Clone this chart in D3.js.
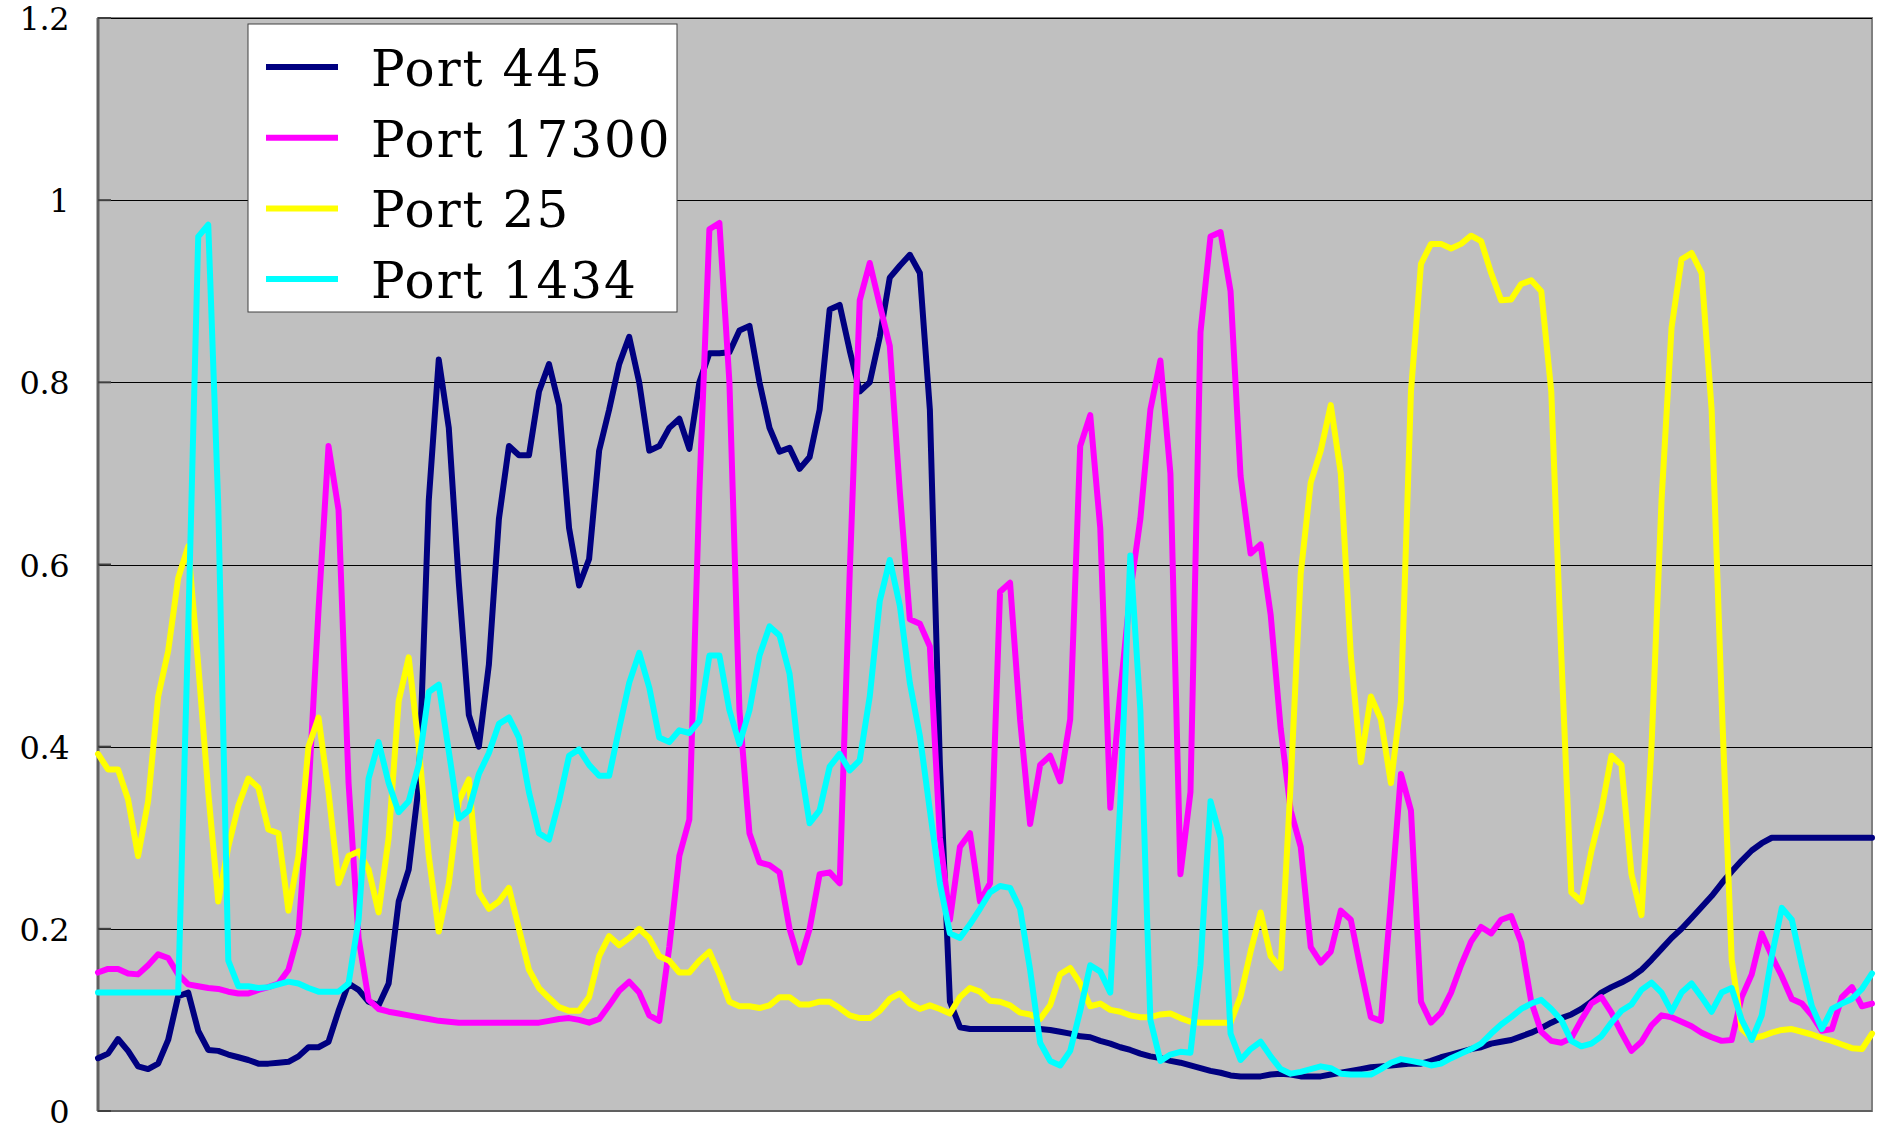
<!DOCTYPE html>
<html>
<head>
<meta charset="utf-8">
<script src="https://cdn.jsdelivr.net/npm/d3@7"></script>
<style>
  body { margin: 0; background: #fff; }
  svg { display: block; }
</style>
</head>
<body>
<svg width="1879" height="1131"></svg>
<script>
// one reading every ~10px along the time axis
const port445 = [
    0.058, 0.063, 0.079, 0.066, 0.049, 0.046, 0.052, 0.078, 0.126, 0.13,
    0.088, 0.067, 0.066, 0.062, 0.059, 0.056, 0.052, 0.052, 0.053, 0.054,
    0.06, 0.07, 0.07, 0.076, 0.11, 0.14, 0.133, 0.12, 0.116, 0.14,
    0.23, 0.265, 0.357, 0.67, 0.825, 0.75, 0.58, 0.435, 0.4, 0.49,
    0.65, 0.73, 0.72, 0.72, 0.79, 0.82, 0.775, 0.64, 0.577, 0.606,
    0.725, 0.77, 0.82, 0.85, 0.8, 0.725, 0.73, 0.75, 0.76, 0.727,
    0.8, 0.832, 0.832, 0.833, 0.857, 0.862, 0.8, 0.75, 0.724, 0.728,
    0.705, 0.718, 0.77, 0.88, 0.885, 0.835, 0.79, 0.8, 0.85, 0.915,
    0.928, 0.94, 0.92, 0.77, 0.38, 0.12, 0.092, 0.09, 0.09, 0.09,
    0.09, 0.09, 0.09, 0.09, 0.09, 0.089, 0.087, 0.085, 0.082, 0.081,
    0.077, 0.074, 0.07, 0.067, 0.063, 0.06, 0.058, 0.055, 0.053, 0.05,
    0.047, 0.044, 0.042, 0.039, 0.038, 0.038, 0.038, 0.04, 0.041, 0.04,
    0.038, 0.038, 0.038, 0.04, 0.042, 0.044, 0.046, 0.048, 0.049, 0.05,
    0.051, 0.052, 0.052, 0.055, 0.059, 0.062, 0.065, 0.068, 0.07, 0.074,
    0.076, 0.078, 0.082, 0.086, 0.091, 0.097, 0.102, 0.106, 0.112, 0.12,
    0.13, 0.136, 0.141, 0.147, 0.155, 0.166, 0.178, 0.19, 0.2, 0.212,
    0.224, 0.236, 0.25, 0.263, 0.275, 0.286, 0.294, 0.3, 0.3, 0.3,
    0.3, 0.3, 0.3, 0.3, 0.3, 0.3, 0.3, 0.3
];
const port17300 = [
    0.152, 0.156, 0.156, 0.151, 0.15, 0.16, 0.172, 0.168, 0.15, 0.139,
    0.137, 0.135, 0.134, 0.131, 0.129, 0.129, 0.133, 0.136, 0.14, 0.155,
    0.195, 0.35, 0.55, 0.73, 0.66, 0.36, 0.19, 0.122, 0.112, 0.109,
    0.107, 0.105, 0.103, 0.101, 0.099, 0.098, 0.097, 0.097, 0.097, 0.097,
    0.097, 0.097, 0.097, 0.097, 0.097, 0.099, 0.101, 0.102, 0.1, 0.097,
    0.101, 0.116, 0.132, 0.142, 0.13, 0.105, 0.099, 0.18, 0.28, 0.32,
    0.68, 0.968, 0.975, 0.8, 0.44, 0.305, 0.273, 0.27, 0.262, 0.2,
    0.163, 0.2, 0.26, 0.262, 0.25, 0.59, 0.89, 0.931, 0.885, 0.84,
    0.68, 0.54, 0.535, 0.51, 0.3, 0.21, 0.29, 0.305, 0.23, 0.25,
    0.57, 0.58, 0.43, 0.315, 0.38, 0.39, 0.362, 0.43, 0.73, 0.764,
    0.64, 0.333, 0.46, 0.57, 0.65, 0.77, 0.824, 0.7, 0.26, 0.35,
    0.855, 0.96, 0.965, 0.9, 0.697, 0.612, 0.622, 0.545, 0.42, 0.33,
    0.29, 0.18, 0.163, 0.175, 0.22, 0.21, 0.155, 0.103, 0.099, 0.23,
    0.37, 0.33, 0.12, 0.097, 0.108, 0.13, 0.16, 0.186, 0.202, 0.195,
    0.21, 0.214, 0.185, 0.12, 0.087, 0.077, 0.075, 0.08, 0.1, 0.118,
    0.125, 0.108, 0.086, 0.066, 0.076, 0.094, 0.105, 0.103, 0.098, 0.093,
    0.086, 0.081, 0.077, 0.078, 0.125, 0.15, 0.195, 0.17, 0.148, 0.123,
    0.118, 0.105, 0.088, 0.09, 0.125, 0.136, 0.115, 0.118
];
const port25 = [
    0.392, 0.375, 0.375, 0.342, 0.28, 0.34, 0.455, 0.505, 0.585, 0.62,
    0.49, 0.35, 0.23, 0.29, 0.335, 0.365, 0.355, 0.309, 0.305, 0.22,
    0.28, 0.4, 0.432, 0.35, 0.25, 0.28, 0.285, 0.265, 0.218, 0.3,
    0.45, 0.498, 0.4, 0.28, 0.197, 0.25, 0.34, 0.364, 0.24, 0.222,
    0.23, 0.245, 0.2, 0.155, 0.135, 0.124, 0.114, 0.11, 0.11, 0.125,
    0.17, 0.192, 0.182, 0.19, 0.2, 0.19, 0.17, 0.165, 0.152, 0.152,
    0.165, 0.175, 0.15, 0.12, 0.115, 0.115, 0.113, 0.116, 0.125, 0.125,
    0.117, 0.117, 0.12, 0.12, 0.113, 0.105, 0.102, 0.102, 0.11, 0.123,
    0.129, 0.118, 0.112, 0.116, 0.112, 0.107, 0.125, 0.135, 0.131, 0.121,
    0.12, 0.116, 0.108, 0.106, 0.101, 0.116, 0.15, 0.157, 0.14, 0.115,
    0.118, 0.111, 0.109, 0.105, 0.103, 0.103, 0.106, 0.107, 0.102, 0.098,
    0.097, 0.097, 0.097, 0.097, 0.126, 0.175, 0.218, 0.17, 0.157, 0.36,
    0.59, 0.69, 0.725, 0.775, 0.7, 0.5, 0.383, 0.455, 0.43, 0.36,
    0.45, 0.79, 0.93, 0.952, 0.952, 0.947, 0.952, 0.961, 0.955, 0.92,
    0.89, 0.891, 0.908, 0.912, 0.9, 0.79, 0.5, 0.24, 0.23, 0.285,
    0.33, 0.39, 0.38, 0.26, 0.215, 0.4, 0.67, 0.86, 0.935, 0.942,
    0.92, 0.77, 0.45, 0.166, 0.09, 0.08, 0.082, 0.086, 0.089, 0.09,
    0.087, 0.084, 0.08, 0.077, 0.073, 0.069, 0.068, 0.085
];
const port1434 = [
    0.13, 0.13, 0.13, 0.13, 0.13, 0.13, 0.13, 0.13, 0.13, 0.53,
    0.96, 0.973, 0.665, 0.165, 0.137, 0.137, 0.135, 0.136, 0.139, 0.142,
    0.14, 0.135, 0.131, 0.131, 0.131, 0.14, 0.21, 0.365, 0.405, 0.36,
    0.328, 0.34, 0.38, 0.46, 0.468, 0.395, 0.321, 0.33, 0.37, 0.393,
    0.425, 0.432, 0.41, 0.35, 0.305, 0.298, 0.34, 0.39, 0.397, 0.38,
    0.368, 0.368, 0.42, 0.47, 0.503, 0.465, 0.41, 0.405, 0.418, 0.415,
    0.428, 0.5, 0.5, 0.44, 0.403, 0.44, 0.5, 0.532, 0.522, 0.48,
    0.385, 0.316, 0.33, 0.378, 0.392, 0.374, 0.385, 0.455, 0.56, 0.605,
    0.555, 0.47, 0.412, 0.33, 0.25, 0.195, 0.19, 0.205, 0.222, 0.24,
    0.247, 0.245, 0.222, 0.155, 0.075, 0.055, 0.05, 0.066, 0.11, 0.16,
    0.153, 0.13, 0.34, 0.61, 0.44, 0.1, 0.055, 0.062, 0.065, 0.064,
    0.16, 0.34, 0.3, 0.085, 0.056, 0.068, 0.076, 0.06, 0.046, 0.041,
    0.043, 0.046, 0.049, 0.047, 0.041, 0.04, 0.04, 0.04, 0.046, 0.053,
    0.057, 0.055, 0.053, 0.05, 0.052, 0.058, 0.063, 0.068, 0.074, 0.085,
    0.095, 0.103, 0.112, 0.118, 0.122, 0.112, 0.1, 0.077, 0.071, 0.074,
    0.082, 0.097, 0.11, 0.117, 0.133, 0.141, 0.13, 0.109, 0.13, 0.14,
    0.125, 0.109, 0.13, 0.135, 0.1, 0.078, 0.105, 0.17, 0.223, 0.21,
    0.16, 0.115, 0.09, 0.112, 0.118, 0.123, 0.134, 0.151
];

const seriesNames = ['Port 445', 'Port 17300', 'Port 25', 'Port 1434'];
const seriesColours = ['#000080', '#ff00ff', '#ffff00', '#00ffff'];
const yTicks = [0, 0.2, 0.4, 0.6, 0.8, 1, 1.2];
const yTickLabels = ['0', '0.2', '0.4', '0.6', '0.8', '1', '1.2'];

const FONT = '"DejaVu Serif", "Liberation Serif", serif';

class PortChart {
    constructor(series) {
        this.series = series;
        this.svg = d3.select('svg');
        this.margin = { top: 18, right: 7, bottom: 20, left: 98 };
        this.width = 1879 - this.margin.left - this.margin.right;
        this.height = 1131 - this.margin.top - this.margin.bottom;

        this.x = d3.scaleLinear()
            .domain([0, series[0].length - 1])
            .range([0, this.width]);
        this.y = d3.scaleLinear()
            .domain([0, 1.2])
            .range([this.height, 0]);

        this.g = this.svg.append('g')
            .attr('transform', 'translate(' + this.margin.left + ',' + this.margin.top + ')');
    }

    draw() {
        this.drawFrame();
        this.drawLines();
        this.drawLegend();
    }

    // grey plot area, gridlines, inner ticks and the value labels
    drawFrame() {
        this.g.append('rect')
            .attr('width', this.width)
            .attr('height', this.height)
            .attr('fill', '#c0c0c0')
            .attr('stroke', '#808080')
            .attr('stroke-width', 2);

        this.g.selectAll('.grid')
            .data(yTicks.filter((d) => d > 0))
            .enter().append('line')
            .attr('class', 'grid')
            .attr('x1', 0)
            .attr('x2', this.width)
            .attr('y1', (d) => Math.round(this.y(d)) + 0.5)
            .attr('y2', (d) => Math.round(this.y(d)) + 0.5)
            .attr('stroke', '#000')
            .attr('stroke-width', 1);

        // left and bottom axis lines, small ticks pointing into the plot
        this.g.append('line')
            .attr('x1', 0).attr('x2', 0)
            .attr('y1', 0).attr('y2', this.height)
            .attr('stroke', '#606060')
            .attr('stroke-width', 3);
        this.g.append('line')
            .attr('x1', 0).attr('x2', this.width)
            .attr('y1', this.height).attr('y2', this.height)
            .attr('stroke', '#606060')
            .attr('stroke-width', 2);
        this.g.selectAll('.tick')
            .data(yTicks)
            .enter().append('line')
            .attr('class', 'tick')
            .attr('x1', 0)
            .attr('x2', 13)
            .attr('y1', (d) => this.y(d))
            .attr('y2', (d) => this.y(d))
            .attr('stroke', '#404040')
            .attr('stroke-width', 2);

        this.svg.selectAll('.ylabel')
            .data(yTicks)
            .enter().append('text')
            .attr('class', 'ylabel')
            .attr('x', 69)
            .attr('y', (d) => this.margin.top + this.y(d) + 12)
            .attr('text-anchor', 'end')
            .style('font-family', FONT)
            .style('font-size', '32px')
            .style('letter-spacing', '-0.5px')
            .attr('fill', '#000')
            .text((d, i) => yTickLabels[i]);
    }

    drawLines() {
        const line = d3.line()
            .x((d, i) => this.x(i))
            .y((d) => this.y(d));

        this.g.selectAll('.series')
            .data(this.series)
            .enter().append('path')
            .attr('class', 'series')
            .attr('d', line)
            .attr('fill', 'none')
            .attr('stroke', (d, i) => seriesColours[i])
            .attr('stroke-width', 6)
            .attr('stroke-linejoin', 'round')
            .attr('stroke-linecap', 'round');
    }

    drawLegend() {
        const legend = this.svg.append('g')
            .attr('transform', 'translate(248,24)');

        legend.append('rect')
            .attr('width', 429)
            .attr('height', 288)
            .attr('fill', '#fff')
            .attr('stroke', '#404040')
            .attr('stroke-width', 1);

        const item = legend.selectAll('.item')
            .data(seriesNames)
            .enter().append('g')
            .attr('class', 'item')
            .attr('transform', (d, i) => 'translate(0,' + (43 + i * 70.7) + ')');

        item.append('line')
            .attr('x1', 18)
            .attr('x2', 90)
            .attr('stroke', (d, i) => seriesColours[i])
            .attr('stroke-width', 6);

        item.append('text')
            .attr('x', 123)
            .attr('y', 19)
            .style('font-family', FONT)
            .style('font-size', '50px')
            .style('letter-spacing', '2px')
            .attr('fill', '#000')
            .text((d) => d);
    }
}

const chart = new PortChart([port445, port17300, port25, port1434]);
chart.draw();
</script>
</body>
</html>
